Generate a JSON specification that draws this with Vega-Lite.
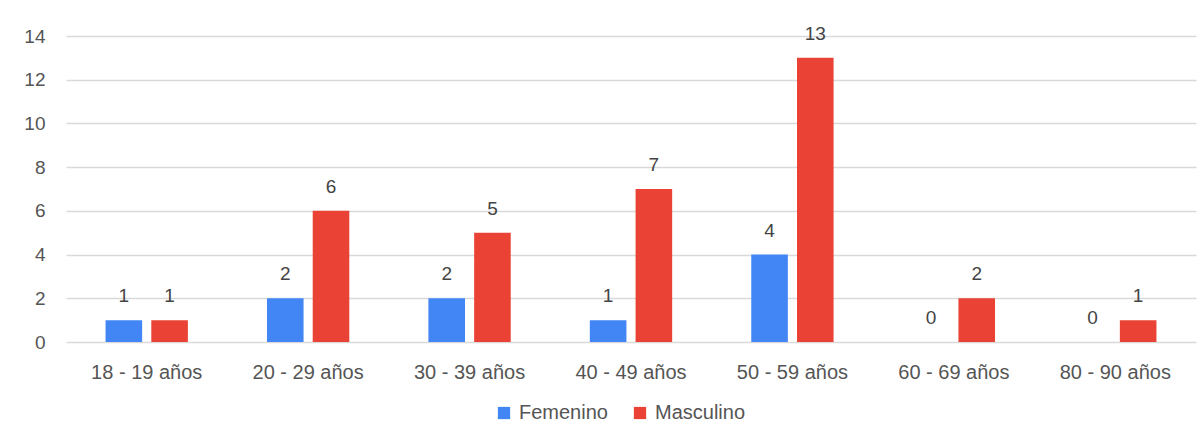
{
  "$schema": "https://vega.github.io/schema/vega-lite/v6.json",
  "width": 1130,
  "height": 306,
  "autosize": {"type": "none"},
  "padding": {"left": 66, "top": 36, "right": 8, "bottom": 97},
  "background": "white",
  "data": {
    "values": [
      {"edad": "18 - 19 años", "sexo": "Femenino", "n": 1},
      {"edad": "18 - 19 años", "sexo": "Masculino", "n": 1},
      {"edad": "20 - 29 años", "sexo": "Femenino", "n": 2},
      {"edad": "20 - 29 años", "sexo": "Masculino", "n": 6},
      {"edad": "30 - 39 años", "sexo": "Femenino", "n": 2},
      {"edad": "30 - 39 años", "sexo": "Masculino", "n": 5},
      {"edad": "40 - 49 años", "sexo": "Femenino", "n": 1},
      {"edad": "40 - 49 años", "sexo": "Masculino", "n": 7},
      {"edad": "50 - 59 años", "sexo": "Femenino", "n": 4},
      {"edad": "50 - 59 años", "sexo": "Masculino", "n": 13},
      {"edad": "60 - 69 años", "sexo": "Femenino", "n": 0},
      {"edad": "60 - 69 años", "sexo": "Masculino", "n": 2},
      {"edad": "80 - 90 años", "sexo": "Femenino", "n": 0},
      {"edad": "80 - 90 años", "sexo": "Masculino", "n": 1}
    ]
  },
  "encoding": {
    "x": {
      "field": "edad",
      "type": "nominal",
      "sort": null,
      "scale": {"paddingInner": 0.49, "paddingOuter": 0.245},
      "axis": {
        "title": null,
        "labelAngle": 0,
        "domain": false,
        "ticks": false,
        "labelPadding": 20,
        "labelFontSize": 20,
        "labelColor": "#555555",
        "labelFont": "Liberation Sans"
      }
    },
    "xOffset": {
      "field": "sexo",
      "type": "nominal",
      "scale": {"paddingInner": 0.2, "paddingOuter": 0}
    },
    "y": {
      "field": "n",
      "type": "quantitative",
      "scale": {"domain": [0, 14], "nice": false},
      "axis": {
        "title": null,
        "values": [0, 2, 4, 6, 8, 10, 12, 14],
        "domain": false,
        "ticks": false,
        "labelPadding": 21,
        "labelFontSize": 19,
        "labelColor": "#555555",
        "labelFont": "Liberation Sans",
        "gridColor": "#d9d9d9",
        "gridWidth": 1.5
      }
    }
  },
  "layer": [
    {
      "mark": {"type": "bar"},
      "encoding": {
        "color": {
          "field": "sexo",
          "type": "nominal",
          "scale": {"domain": ["Femenino", "Masculino"], "range": ["#4285F4", "#EA4335"]},
          "legend": {
            "title": null,
            "orient": "none",
            "legendX": 428,
            "legendY": 367,
            "direction": "horizontal",
            "symbolType": "square",
            "symbolSize": 150,
            "symbolStrokeWidth": 0,
            "labelOffset": 5,
            "labelFontSize": 20,
            "labelColor": "#555555",
            "labelFont": "Liberation Sans",
            "columnPadding": 22
          }
        }
      }
    },
    {
      "mark": {
        "type": "text",
        "baseline": "alphabetic",
        "dy": -18,
        "fontSize": 19,
        "font": "Liberation Sans",
        "color": "#444444"
      },
      "encoding": {
        "text": {"field": "n", "type": "quantitative"}
      }
    }
  ],
  "config": {
    "view": {"stroke": null}
  }
}
